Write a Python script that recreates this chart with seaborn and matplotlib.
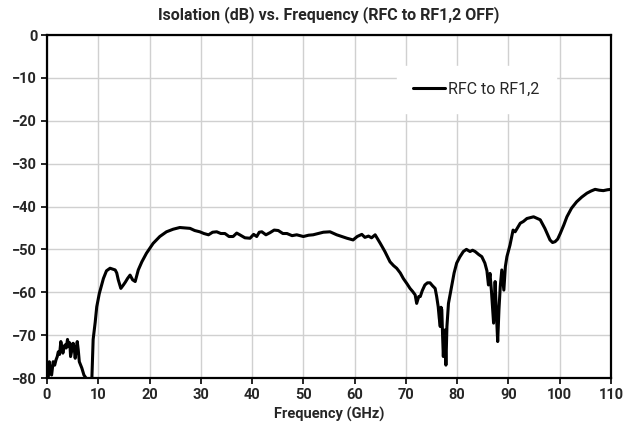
import matplotlib
matplotlib.use("Agg")
import matplotlib.pyplot as plt
import seaborn as sns
import pandas as pd

# Traced isolation curve (RFC to RF1,2 OFF)
freq_ghz = [
    0.0, 0.25, 0.45, 0.7, 0.9, 1.2, 1.5, 1.75, 2.0, 2.2, 2.45, 2.7, 2.9, 3.1, 3.3, 3.5,
    3.75, 4.0, 4.15, 4.3, 4.45, 4.6, 4.85, 5.1, 5.3, 5.5, 5.7, 5.9, 6.1, 6.3, 6.8, 7.2,
    7.6, 8.0, 8.7, 9.0, 9.4, 9.7, 10.2, 10.6, 11.0, 11.6, 12.3, 12.8, 13.3, 13.6, 13.9,
    14.4, 14.9, 15.3, 15.7, 16.2, 16.7, 17.2, 17.8, 18.5, 19.4, 20.7, 22.0, 23.3, 24.6,
    25.9, 27.0, 27.9, 28.8, 29.8, 30.6, 31.5, 32.3, 33.1, 33.9, 34.7, 35.5, 36.3, 37.0,
    37.6, 38.6, 39.6, 40.3, 40.9, 41.4, 41.9, 42.7, 43.5, 44.3, 45.1, 46.0, 46.8, 47.8,
    48.7, 50.0, 51.0, 51.9, 52.9, 53.9, 55.2, 56.5, 57.5, 58.5, 59.7, 60.5, 61.4, 62.0,
    62.7, 63.3, 64.0, 65.0, 65.9, 66.9, 67.6, 68.2, 68.9, 69.5, 70.2, 70.8, 71.3, 71.8,
    72.1, 72.5, 72.8, 73.2, 73.7, 74.2, 74.7, 75.2, 75.7, 76.0, 76.3, 76.5, 76.7, 76.85,
    77.0, 77.15, 77.3, 77.45, 77.6, 77.8, 78.0, 78.3, 78.9, 79.4, 79.9, 80.5, 81.2, 81.8,
    82.5, 83.0, 83.5, 84.2, 84.8, 85.4, 85.8, 86.1, 86.4, 86.7, 87.1, 87.4, 87.65, 87.9,
    88.15, 88.4, 88.7, 89.1, 89.4, 89.7, 90.3, 90.9, 91.3, 92.3, 92.9, 93.6, 94.9, 96.2,
    97.1, 98.1, 98.6, 99.1, 99.6, 100.1, 100.8, 101.4, 102.3, 103.3, 104.3, 105.3,
    106.1, 106.9, 107.7, 108.5, 109.3, 110.0,
]
isolation_db = [
    -80.0, -79.7, -76.2, -79.0, -79.3, -76.2, -77.0, -75.8, -75.0, -73.9, -74.5, -71.5,
    -73.0, -74.2, -73.0, -72.3, -73.0, -71.0, -72.0, -72.7, -71.8, -75.0, -73.5, -71.9,
    -73.0, -75.4, -73.0, -71.5, -73.5, -76.2, -77.7, -79.3, -80.0, -82.0, -82.0, -71.0,
    -67.0, -63.4, -60.3, -58.5, -56.8, -55.0, -54.4, -54.6, -54.8, -55.5, -57.1, -59.1,
    -58.3, -57.6, -56.8, -56.0, -57.1, -57.5, -54.8, -52.9, -50.9, -48.6, -47.0, -45.9,
    -45.3, -44.9, -45.0, -45.1, -45.6, -45.9, -46.3, -46.6, -46.0, -45.9, -46.3, -46.3,
    -47.0, -47.0, -46.2, -46.6, -47.3, -47.4, -46.5, -47.0, -46.0, -45.9, -46.6, -46.1,
    -45.5, -45.6, -46.3, -46.3, -46.8, -46.6, -47.0, -46.7, -46.6, -46.3, -46.0, -45.9,
    -46.6, -47.0, -47.4, -47.8, -47.0, -46.5, -47.2, -46.9, -47.3, -46.6, -48.6, -50.5,
    -52.9, -53.8, -54.4, -55.5, -56.8, -58.0, -59.1, -59.8, -60.6, -62.6, -61.0, -61.0,
    -59.6, -58.3, -57.8, -57.8, -58.5, -59.1, -61.0, -63.4, -66.0, -68.0, -63.5, -64.1,
    -70.0, -75.0, -70.0, -68.8, -77.0, -68.0, -62.6, -58.7, -55.5, -53.2, -51.8, -50.5,
    -50.0, -50.5, -50.2, -50.5, -51.2, -51.7, -53.2, -55.0, -58.3, -55.6, -60.0, -67.2,
    -57.5, -65.0, -71.5, -64.0, -58.7, -54.8, -59.5, -54.0, -51.7, -49.0, -45.5, -45.9,
    -43.9, -43.5, -42.8, -42.4, -43.1, -45.1, -47.8, -48.4, -48.2, -47.6, -46.3, -44.3,
    -42.4, -40.4, -38.9, -37.8, -36.9, -36.4, -36.0, -36.2, -36.3, -36.1, -36.0,
]

df = pd.DataFrame({"Frequency (GHz)": freq_ghz, "Isolation (dB)": isolation_db})

sns.set_style("whitegrid")
plt.rcParams["font.family"] = ["Roboto", "DejaVu Sans"]

fig = plt.figure(figsize=(6.36, 4.28), dpi=100)
ax = fig.add_axes([47 / 636, 1 - 378 / 428, 564 / 636, 343 / 428])

sns.lineplot(data=df, x="Frequency (GHz)", y="Isolation (dB)", ax=ax,
             color="black", linewidth=2.2, label="RFC to RF1,2", sort=False)

ax.set_xlim(0, 110)
ax.set_ylim(-80, 0)
ax.set_xticks(range(0, 111, 10))
ax.set_yticks(range(-80, 1, 10))
ax.grid(True, color="#d0d0d0", linewidth=1.0)

for side in ["left", "bottom", "top", "right"]:
    ax.spines[side].set_color("black")
    ax.spines[side].set_linewidth(1.6)

ax.tick_params(axis="both", which="major", direction="out", length=4, width=1.2,
               color="black", labelsize=10.5, pad=3, bottom=True, left=True)
for lbl in ax.get_xticklabels() + ax.get_yticklabels():
    lbl.set_fontweight("bold")

ax.set_xlabel("Frequency (GHz)", fontsize=10.5, fontweight="bold", labelpad=4)
ax.set_ylabel("")
ax.set_title("Isolation (dB) vs. Frequency (RFC to RF1,2 OFF)", fontsize=11.5,
             fontweight="bold", pad=11)

leg = ax.legend(loc="center", bbox_to_anchor=(0.7615, 0.841), frameon=True,
                fontsize=11.5, handlelength=2.0, handletextpad=0.2,
                borderpad=1.0, borderaxespad=0, fancybox=False)
leg.get_frame().set_facecolor("white")
leg.get_frame().set_edgecolor("white")
leg.get_frame().set_alpha(1.0)

fig.savefig("out.png", dpi=100)
